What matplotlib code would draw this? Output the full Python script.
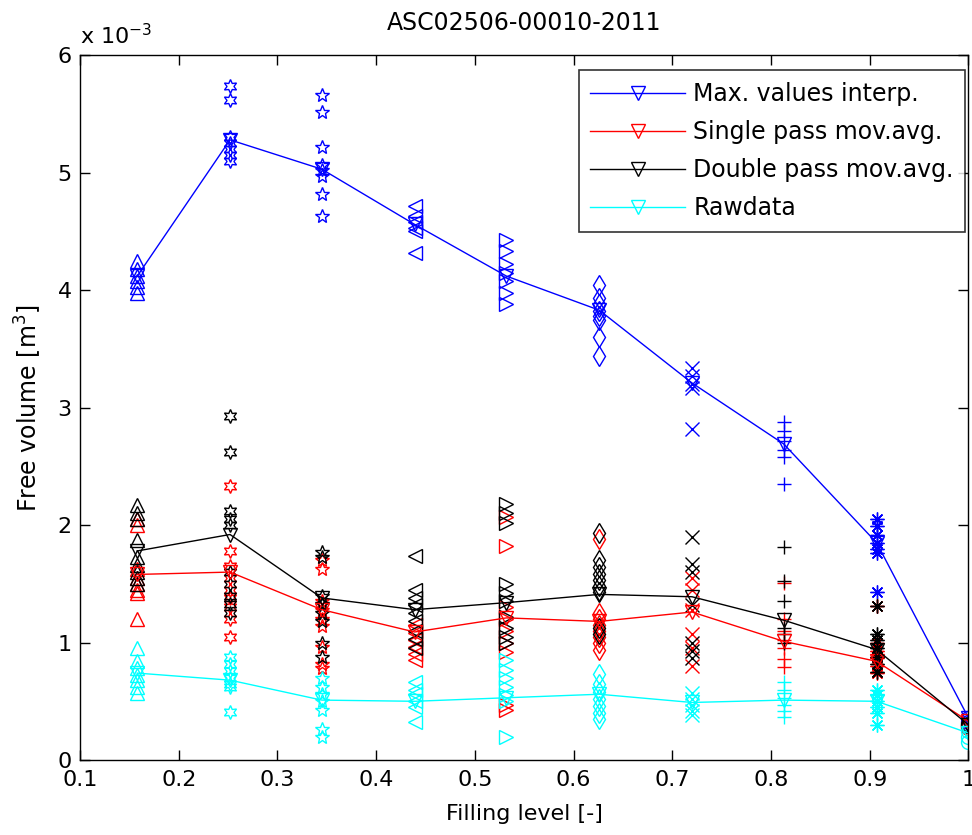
import matplotlib
matplotlib.use("Agg")
import matplotlib.pyplot as plt
from matplotlib.ticker import FixedLocator, FuncFormatter

plt.rcParams['font.family'] = ['DejaVu Sans']

# filling level of each measurement column
fill = [0.158, 0.252, 0.345, 0.439, 0.532, 0.626, 0.720, 0.813, 0.907, 1.0]
col_markers = ['^', (6, 1, 0), '*', '<', '>', 'd', 'x', '+', (8, 2, 0), 'o']

# interpolated curves (x 1e-3 m^3)
max_vals = [4.12, 5.28, 5.03, 4.56, 4.12, 3.83, 3.21, 2.69, 1.85, 0.36]
single_pass = [1.58, 1.60, 1.28, 1.09, 1.21, 1.18, 1.26, 1.01, 0.84, 0.33]
double_pass = [1.78, 1.92, 1.38, 1.28, 1.34, 1.41, 1.39, 1.19, 0.94, 0.30]
rawdata = [0.74, 0.68, 0.51, 0.50, 0.53, 0.56, 0.49, 0.51, 0.50, 0.23]

# individual points per column (x 1e-3 m^3)
blue_pts = [
    [4.25, 4.18, 4.12, 4.08, 4.03, 3.98],
    [5.74, 5.62, 5.30, 5.25, 5.20, 5.15, 5.10],
    [5.66, 5.52, 5.22, 5.07, 5.02, 4.97, 4.82, 4.63],
    [4.72, 4.63, 4.58, 4.53, 4.50, 4.32],
    [4.43, 4.33, 4.22, 4.15, 4.08, 3.98, 3.88],
    [4.04, 3.93, 3.88, 3.82, 3.78, 3.75, 3.60, 3.44],
    [3.34, 3.27, 3.20, 3.17, 2.82],
    [2.88, 2.80, 2.72, 2.64, 2.58, 2.35],
    [2.05, 1.99, 1.92, 1.85, 1.80, 1.76, 1.43],
    [0.36, 0.32],
]
red_pts = [
    [2.05, 2.00, 1.63, 1.55, 1.50, 1.45, 1.42, 1.20],
    [2.33, 1.78, 1.65, 1.55, 1.45, 1.38, 1.30, 1.20, 1.05],
    [1.70, 1.63, 1.35, 1.28, 1.20, 1.14, 0.96, 0.82, 0.78],
    [1.15, 1.08, 1.02, 0.96, 0.90, 0.85],
    [2.07, 1.82, 1.30, 1.20, 1.10, 1.00, 0.92, 0.47, 0.43],
    [1.88, 1.25, 1.20, 1.15, 1.10, 1.05, 1.00, 0.94],
    [1.55, 1.45, 1.28, 1.07, 0.95, 0.80],
    [1.51, 1.20, 1.10, 1.02, 0.95, 0.86, 0.79],
    [1.31, 1.00, 0.93, 0.87, 0.80, 0.74],
    [0.30, 0.27],
]
black_pts = [
    [2.17, 2.10, 2.05, 1.87, 1.73, 1.66, 1.60, 1.55, 1.50],
    [2.93, 2.62, 2.12, 2.05, 2.00, 1.60, 1.50, 1.40, 1.33, 1.25],
    [1.77, 1.73, 1.40, 1.33, 1.25, 1.18, 1.00, 0.88],
    [1.74, 1.45, 1.38, 1.32, 1.25, 1.18, 1.10, 1.03, 0.95],
    [2.18, 2.10, 2.02, 1.50, 1.42, 1.35, 1.22, 1.12, 1.05, 1.00],
    [1.93, 1.70, 1.64, 1.58, 1.53, 1.48, 1.43, 1.12, 1.07],
    [1.90, 1.67, 1.60, 1.32, 1.00, 0.93, 0.87],
    [1.81, 1.52, 1.35, 1.12, 1.07, 1.00],
    [1.31, 1.07, 1.02, 0.95, 0.88, 0.82, 0.75],
    [0.31, 0.29],
]
cyan_pts = [
    [0.95, 0.84, 0.78, 0.72, 0.68, 0.62, 0.57],
    [0.88, 0.82, 0.76, 0.70, 0.65, 0.62, 0.41],
    [0.70, 0.62, 0.56, 0.50, 0.43, 0.26, 0.20],
    [0.66, 0.60, 0.56, 0.50, 0.45, 0.32],
    [0.85, 0.77, 0.70, 0.62, 0.55, 0.50, 0.20],
    [0.73, 0.65, 0.58, 0.52, 0.46, 0.40, 0.35],
    [0.57, 0.52, 0.47, 0.42, 0.38],
    [0.66, 0.60, 0.53, 0.47, 0.42, 0.37],
    [0.60, 0.55, 0.50, 0.45, 0.40, 0.30],
    [0.25, 0.20, 0.15],
]

labels = ["Max. values interp.", "Single pass mov.avg.",
          "Double pass mov.avg.", "Rawdata"]
colors = ['#0000ff', '#ff0000', '#000000', '#00ffff']
scale = 1e-3
fs = 16

fig = plt.figure(figsize=(9.72, 8.35), dpi=100)
ax = fig.add_axes([0.0823, 0.0898, 0.914, 0.844])

for pts, c in zip([blue_pts, red_pts, black_pts, cyan_pts], colors):
    for x, col, m in zip(fill, pts, col_markers):
        ax.plot([x] * len(col), [v * scale for v in col], linestyle='none',
                marker=m, markersize=10, markerfacecolor='none',
                markeredgecolor=c, markeredgewidth=1.0)

for vals, c, lab in zip([max_vals, single_pass, double_pass, rawdata], colors, labels):
    ax.plot(fill, [v * scale for v in vals], color=c, linewidth=1.0,
            marker='v', markersize=10, markerfacecolor='none',
            markeredgecolor=c, markeredgewidth=1.0, label=lab)

ax.set_xlim(0.1, 1.0)
ax.set_ylim(0, 6e-3)
ax.xaxis.set_major_locator(FixedLocator([0.1, 0.2, 0.3, 0.4, 0.5, 0.6, 0.7, 0.8, 0.9, 1.0]))
ax.xaxis.set_major_formatter(FuncFormatter(lambda v, p: "%g" % round(v, 2)))
ax.yaxis.set_major_locator(FixedLocator([i * scale for i in range(7)]))
ax.yaxis.set_major_formatter(FuncFormatter(lambda v, p: "%d" % round(v / scale)))
ax.tick_params(direction='in', top=True, right=True, length=7, width=1,
               labelsize=fs)
ax.tick_params(axis='x', pad=7)
ax.tick_params(axis='y', pad=6)
for s in ax.spines.values():
    s.set_linewidth(1.0)

ax.text(0.0, 1.01, r"x 10$^{-3}$", transform=ax.transAxes, fontsize=fs,
        ha='left', va='bottom')
ax.set_title("ASC02506-00010-2011", fontsize=17, pad=18)
ax.set_xlabel("Filling level [-]", fontsize=fs, labelpad=10)
ax.set_ylabel("Free volume [m$^3$]", fontsize=17, labelpad=10)

leg = ax.legend(loc='upper right', fontsize=17, frameon=True, fancybox=False,
                edgecolor='black', borderpad=0.5, handlelength=4.0,
                handletextpad=0.35, labelspacing=0.6, borderaxespad=0,
                bbox_to_anchor=(0.9966, 0.979))
leg.get_frame().set_linewidth(1.2)

fig.savefig("out.png", dpi=100)
